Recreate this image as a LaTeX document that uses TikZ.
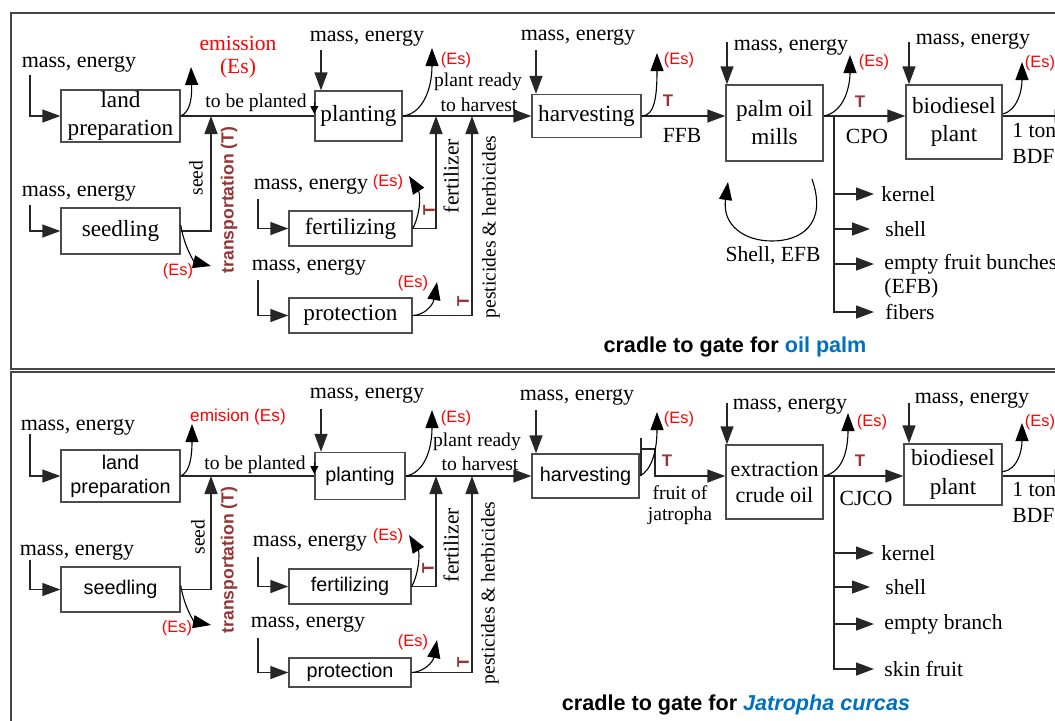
\documentclass[tikz,border=0pt]{standalone}
\usepackage{fontspec}
\setmainfont{Liberation Serif}
\setsansfont{Liberation Sans}
\usetikzlibrary{arrows.meta}
\definecolor{esred}{RGB}{255,0,0}
\definecolor{tbrown}{RGB}{148,54,52}
\definecolor{capblue}{RGB}{0,112,192}
\definecolor{framegray}{RGB}{70,70,70}
\newcommand\txA{\fontsize{11.6}{14}\selectfont}
\newcommand\txM{\fontsize{11}{13}\selectfont}
\newcommand\txB{\fontsize{9.8}{11.5}\selectfont}
\newcommand\txC{\fontsize{10.8}{12.5}\selectfont}
\newcommand\txS{\sffamily\fontsize{9.9}{12}\selectfont}
\newcommand\txE{\sffamily\fontsize{8.2}{10}\selectfont}
\newcommand\txT{\sffamily\bfseries\fontsize{8.4}{10}\selectfont}
\newcommand\txTr{\sffamily\bfseries\fontsize{8.8}{10}\selectfont}
\newcommand\txF{\sffamily\bfseries\fontsize{10.8}{13}\selectfont}

\begin{document}
\begin{tikzpicture}[x=0.5pt,y=-0.5pt,
  tip/.style={-{Triangle[length=9pt,width=6.5pt]}},
  tipS/.style={-{Triangle[length=4pt,width=4pt]}},
  flow/.style={line width=0.7pt,draw=black!85},
  emit/.style={line width=0.55pt,tip},
  box/.style={draw=black!70,line width=0.7pt,fill=white,align=center,inner sep=0pt,font=\txA},
  sbox/.style={box,font=\txS},
  me/.style={inner sep=0pt,font=\txM},
  es/.style={inner sep=0pt,font=\txE,text=esred},
  tt/.style={inner sep=0pt,font=\txT,text=tbrown},
  trn/.style={inner sep=0pt,font=\txTr,text=tbrown,rotate=90},
  sm/.style={inner sep=0pt,font=\txB},
  md/.style={inner sep=0pt,font=\txC},
  byp/.style={anchor=west,inner sep=0pt,font=\txC}
]
\clip (0,0) rectangle (1055,720);

% panel frames
\draw[framegray,line width=0.9pt] (11,13) rectangle (1080,369);
\draw[framegray,line width=0.9pt] (11,372) rectangle (1080,740);

% ================= oil palm =================
\node[box,minimum width=59.5pt,minimum height=26pt] (lp) at (120.5,116) {land\\preparation};
\node[box,minimum width=59.5pt,minimum height=23pt] (sd) at (120.5,231) {seedling};
\node[box,minimum width=43.5pt,minimum height=25pt] (pl) at (358.5,116) {planting};
\node[box,minimum width=61.5pt,minimum height=17.5pt] (fe) at (350.5,228.5) {fertilizing};
\node[box,minimum width=61.5pt,minimum height=17.5pt] (pr) at (350.5,315.5) {protection};
\node[box,minimum width=54.5pt,minimum height=21.5pt] (hv) at (586.5,116) {harvesting};
\node[box,minimum width=48.5pt,minimum height=38pt] (pm) at (774.5,123) {palm oil\\mills};
\node[box,minimum width=48pt,minimum height=37pt] (bd) at (954,122) {biodiesel\\plant};

% inputs
\node[me] (mlp) at (79,64) {mass, energy};
\coordinate (ilp) at (30,75);
\draw[flow,tip] (ilp) |- (lp.west);
\node[me] (msd) at (79,193) {mass, energy};
\coordinate (isd) at (30,205);
\draw[flow,tip] (isd) |- (sd.west);
\node[me] (mpl) at (367,38) {mass, energy};
\coordinate (ipl) at (321,50);
\draw[flow,tip] (ipl) -- (ipl |- pl.north);
\node[me] (mfe) at (311,186) {mass, energy};
\coordinate (ife) at (258,199);
\draw[flow,tip] (ife) |- (fe.west);
\node[me] (mpr) at (309,267) {mass, energy};
\coordinate (ipr) at (258,280);
\draw[flow,tip] (ipr) |- (pr.west);
\node[me] (mhv) at (578,37) {mass, energy};
\coordinate (ihv) at (536,50);
\draw[flow,tip] (ihv) -- (ihv |- hv.north);
\node[me] (mpm) at (791,47) {mass, energy};
\coordinate (ipm) at (727,42);
\draw[flow,tip] (ipm) -- (ipm |- pm.north);
\node[me] (mbd) at (973,41) {mass, energy};
\coordinate (ibd) at (909,42);
\draw[flow,tip] (ibd) -- (ibd |- bd.north);

% main flow
\draw[flow] (lp.east) -- (lp.east -| pl.west);
\draw[tipS] ([yshift=7pt]pl.west) -- ([yshift=1pt]pl.west);
\node[sm] at (256,103) {to be planted};
\coordinate (sj) at (211,116);
\draw[flow,tip] (sd.east) -| (sj);
\node[sm,rotate=90] at (196,178) {seed};
\node[trn] at (229,200) {transportation (T)};
\draw[flow,tip] (pl.east) -- (pl.east -| hv.west);
\node[sm] at (478,82) {plant ready};
\node[sm] at (479,105) {to harvest};
\coordinate (fj) at (436,116);
\draw[flow,tip] (fe.east) -| (fj);
\coordinate (pj) at (472,116);
\draw[flow,tip] (pr.east) -| (pj);
\node[md,rotate=90] at (451,176) {fertilizer};
\node[sm,rotate=90] at (491,227) {pesticides \& herbicides};
\node[tt,rotate=90] at (429,210) {T};
\node[tt,rotate=90] at (463,301) {T};
\draw[flow,tip] (hv.east) -- (hv.east -| pm.west);
\node[tt] at (668,101) {T};
\node[md] at (682,135) {FFB};
\draw[flow,tip] (hv.east -| pm.east) -- (hv.east -| bd.west);
\node[tt] at (860,102) {T};
\node[md] at (867,136) {CPO};
\draw[flow,tip] (hv.east -| bd.east) -- ++(70,0);
\node[md,anchor=west] at (1012,130) {1 ton};
\node[md,anchor=west] at (1012,156) {BDF};

% by-products
\coordinate (bj) at (834,116);
\node[byp] (k1) at (881,194) {kernel};
\node[byp] (k2) at (885,229) {shell};
\node[byp] (k3) at (884,264) {empty fruit bunches};
\node[byp] at (884,288) {(EFB)};
\node[byp] (k4) at (885,312) {fibers};
\draw[flow,tip] (bj) |- ([xshift=-5.5pt]k4.west);
\draw[flow,tip] (bj |- k1.west) -- ([xshift=-3.5pt]k1.west);
\draw[flow,tip] (bj |- k2.west) -- ([xshift=-7.5pt]k2.west);
\draw[flow,tip] (bj |- k3.west) -- ([xshift=-5pt]k3.west);

% recycling loop
\draw[emit] (812,179) .. controls (828,225) and (800,241) .. (772,241)
  .. controls (744,241) and (722,225) .. (728,182);
\node[md] at (773,256) {Shell, EFB};

% emissions
\draw[emit] (lp.east) .. controls (191,112) and (192,95) .. (191,67);
\node[md,text=esred] at (238,43) {emission};
\node[md,text=esred] at (238,68) {(Es)};
\draw[emit] ([yshift=3pt]sd.east) .. controls (185,250) and (195,262) .. (211,266);
\node[es] at (178,271) {(Es)};
\draw[emit] (pl.east) .. controls (422,114) and (432,90) .. (432,48);
\node[es] at (456,60) {(Es)};
\draw[emit] (fe.east) .. controls (420,215) and (421,195) .. (409,176);
\node[es] at (388,182) {(Es)};
\draw[emit] (pr.east) .. controls (425,315) and (433,305) .. (437,282);
\node[es] at (413,283) {(Es)};
\draw[emit] (hv.east) .. controls (655,116) and (657,95) .. (657,53);
\node[es] at (679,60) {(Es)};
\draw[emit] (hv.east -| pm.east) .. controls (845,112) and (850,85) .. (850,55);
\node[es] at (874,62) {(Es)};
\draw[emit] ([yshift=4pt]bd.east) .. controls (1018,110) and (1022,90) .. (1022,62);
\node[es] at (1040,63) {(Es)};

\node[inner sep=0pt,font=\txF] at (735,347) {cradle to gate for \textcolor{capblue}{oil palm}};

% ================= Jatropha =================
\node[sbox,minimum width=59.5pt,minimum height=26pt] (lp2) at (120.5,476) {land\\preparation};
\node[sbox,minimum width=59.5pt,minimum height=22.5pt] (sd2) at (120.5,589.5) {seedling};
\node[sbox,minimum width=45pt,minimum height=23.5pt] (pl2) at (360,476) {planting};
\node[sbox,minimum width=61pt,minimum height=17.5pt] (fe2) at (350,586.5) {fertilizing};
\node[sbox,minimum width=61pt,minimum height=14.5pt] (pr2) at (350,672.5) {protection};
\node[sbox,minimum width=53.5pt,minimum height=22pt] (hv2) at (585.5,476) {harvesting};
\node[box,minimum width=48.5pt,minimum height=37pt,font=\fontsize{11}{13}\selectfont] (ex2) at (774.5,482) {extraction\\crude oil};
\node[box,minimum width=49pt,minimum height=30.5pt,font=\fontsize{11.6}{14.5}\selectfont] (bd2) at (953,474.5) {biodiesel\\plant};

% inputs
\node[me] at (78,427) {mass, energy};
\coordinate (ilp2) at (30,434);
\draw[flow,tip] (ilp2) |- (lp2.west);
\node[me] at (77,552) {mass, energy};
\coordinate (isd2) at (30,560);
\draw[flow,tip] (isd2) |- (sd2.west);
\node[me] at (367,395) {mass, energy};
\coordinate (ipl2) at (321,409);
\draw[flow,tip] (ipl2) -- (ipl2 |- pl2.north);
\node[me] at (310,543) {mass, energy};
\coordinate (ife2) at (258,557);
\draw[flow,tip] (ife2) |- (fe2.west);
\node[me] at (308,624) {mass, energy};
\coordinate (ipr2) at (258,638);
\draw[flow,tip] (ipr2) |- (pr2.west);
\node[me] at (577,397) {mass, energy};
\coordinate (ihv2) at (536,410);
\draw[flow,tip] (ihv2) -- (ihv2 |- hv2.north);
\node[me] at (790,406) {mass, energy};
\coordinate (iex2) at (727,403);
\draw[flow,tip] (iex2) -- (iex2 |- ex2.north);
\node[me] at (972,400) {mass, energy};
\coordinate (ibd2) at (909,403);
\draw[flow,tip] (ibd2) -- (ibd2 |- bd2.north);

% main flow
\draw[flow] (lp2.east) -- (lp2.east -| pl2.west);
\draw[tipS] ([yshift=7pt]pl2.west) -- ([yshift=1pt]pl2.west);
\node[sm] at (255,465) {to be planted};
\coordinate (sj2) at (211,476);
\draw[flow,tip] (sd2.east) -| (sj2);
\node[sm,rotate=90] at (198,537) {seed};
\node[trn] at (229,560) {transportation (T)};
\draw[flow,tip] (pl2.east) -- (pl2.east -| hv2.west);
\node[sm] at (477,442) {plant ready};
\node[sm] at (480,464) {to harvest};
\coordinate (fj2) at (436,476);
\draw[flow,tip] (fe2.east) -| (fj2);
\coordinate (pj2) at (472,476);
\draw[flow,tip] (pr2.east) -| (pj2);
\node[md,rotate=90] at (451,545) {fertilizer};
\node[sm,rotate=90] at (490,593) {pesticides \& herbicides};
\node[tt,rotate=90] at (428,568) {T};
\node[tt,rotate=90] at (463,662) {T};
\coordinate (hk0) at (641,438);
\coordinate (hk1) at (641,449);
\coordinate (hk2) at (655,449);
\draw[flow] (hk0) -- (hk0 |- hv2.east);
\draw[flow] (hk1) -- (hk2);
\draw[flow,tip] (hk2) |- (hk2 |- hv2.east) -- (hv2.east -| ex2.west);
\node[tt] at (667,461) {T};
\node[sm] at (680,493) {fruit of};
\node[sm] at (680,516) {jatropha};
\draw[flow,tip] (hv2.east -| ex2.east) -- (hv2.east -| bd2.west);
\node[tt] at (860,461) {T};
\node[md] at (866,498) {CJCO};
\draw[flow,tip] (hv2.east -| bd2.east) -- ++(70,0);
\node[md,anchor=west] at (1012,489) {1 ton};
\node[md,anchor=west] at (1012,515) {BDF};

% by-products
\coordinate (bj2) at (834,476);
\node[byp] (q1) at (881,553) {kernel};
\node[byp] (q2) at (885,587) {shell};
\node[byp] (q3) at (884,624) {empty branch};
\node[byp] (q4) at (884,669) {skin fruit};
\draw[flow,tip] (bj2) |- ([xshift=-5pt]q4.west);
\draw[flow,tip] (bj2 |- q1.west) -- ([xshift=-3.5pt]q1.west);
\draw[flow,tip] (bj2 |- q2.west) -- ([xshift=-7.5pt]q2.west);
\draw[flow,tip] (bj2 |- q3.west) -- ([xshift=-5pt]q3.west);

% emissions
\draw[emit] (lp2.east) .. controls (191,472) and (192,452) .. (192,424);
\node[es,font=\sffamily\fontsize{8.6}{10}\selectfont] at (238,417) {emision (Es)};
\draw[emit] ([yshift=2pt]sd2.east) .. controls (185,610) and (195,622) .. (211,625);
\node[es] at (177,628) {(Es)};
\draw[emit] (pl2.east) .. controls (424,473) and (432,450) .. (432,410);
\node[es] at (456,418) {(Es)};
\draw[emit] (fe2.east) .. controls (419,573) and (420,553) .. (409,535);
\node[es] at (388,536) {(Es)};
\draw[emit] (pr2.east) .. controls (424,672) and (433,662) .. (437,640);
\node[es] at (413,642) {(Es)};
\draw[emit] (hv2.east) .. controls (652,470) and (657,450) .. (657,412);
\node[es] at (679,419) {(Es)};
\draw[emit] (hv2.east -| ex2.east) .. controls (845,472) and (848,445) .. (848,413);
\node[es] at (872,422) {(Es)};
\draw[emit] ([yshift=1.5pt]bd2.east) .. controls (1018,470) and (1022,450) .. (1022,423);
\node[es] at (1040,422) {(Es)};

\node[inner sep=0pt,font=\txF] at (736,705) {cradle to gate for \textcolor{capblue}{\itshape Jatropha curcas}};
\end{tikzpicture}
\end{document}
